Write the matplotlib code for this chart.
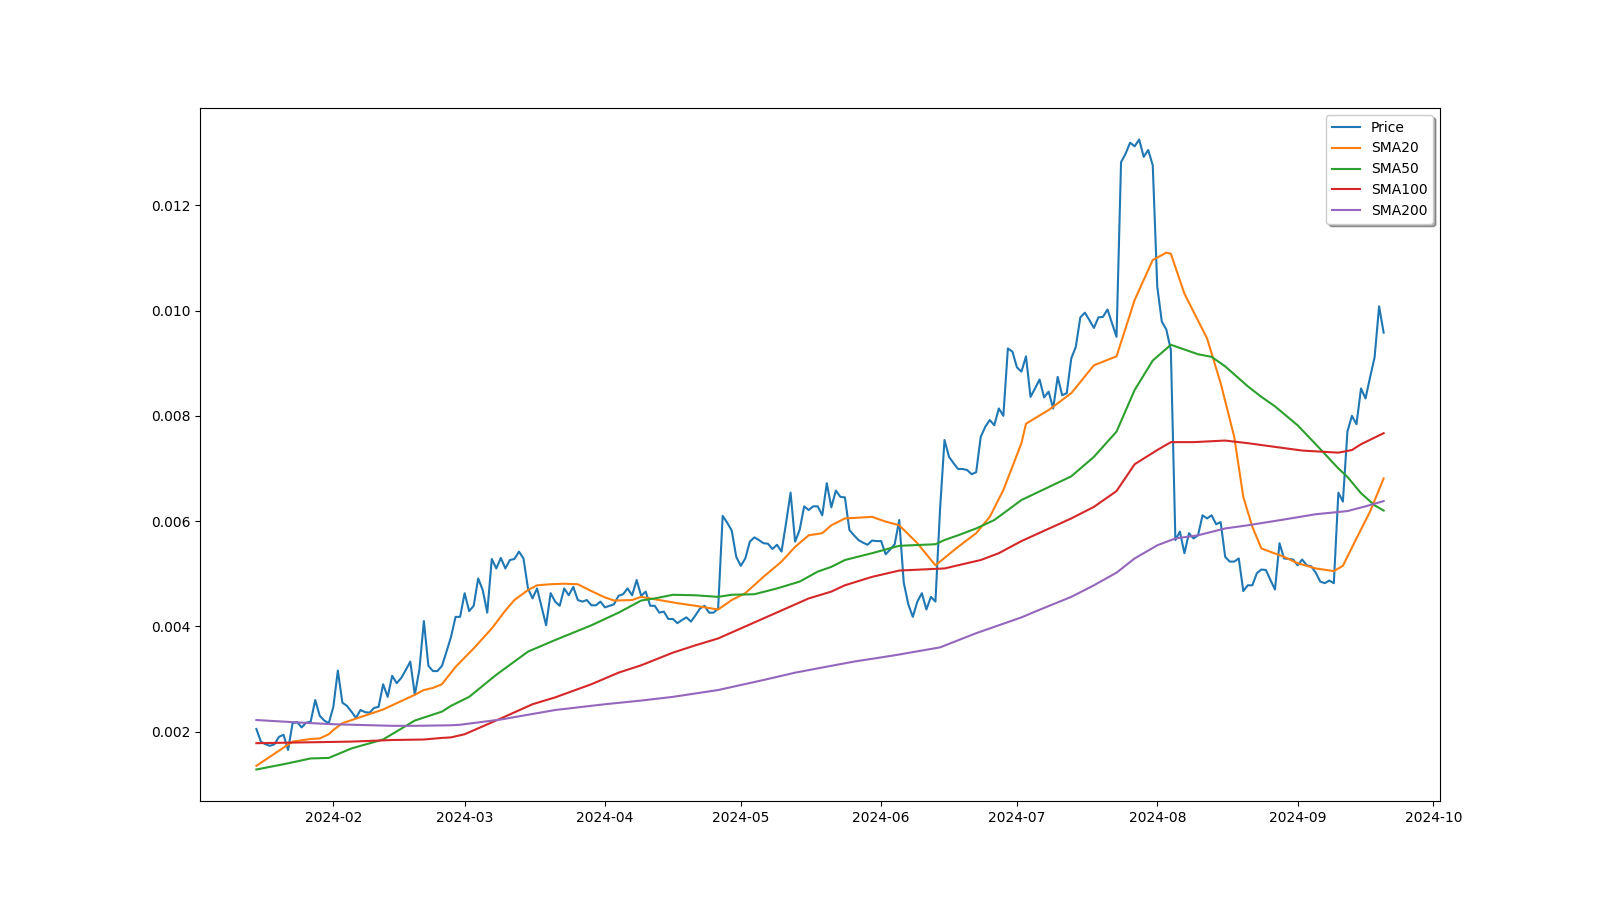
import numpy as np
import pandas as pd
import matplotlib
matplotlib.use("Agg")
import matplotlib.pyplot as plt

# daily close, starting 2024-01-15
start = "2024-01-15"
price = [
    0.00205, 0.00181, 0.00176, 0.00173, 0.00176, 0.00190, 0.00194, 0.00165, 0.00216, 0.00218,
    0.00208, 0.00217, 0.00219, 0.00260, 0.00230, 0.00221, 0.00216, 0.00247, 0.00316, 0.00255,
    0.00249, 0.00238, 0.00226, 0.00241, 0.00237, 0.00236, 0.00245, 0.00247, 0.00290, 0.00266,
    0.00306, 0.00292, 0.00302, 0.00317, 0.00333, 0.00270, 0.00317, 0.00410, 0.00325, 0.00315,
    0.00315, 0.00325, 0.00352, 0.00380, 0.00418, 0.00418, 0.00463, 0.00429, 0.00439, 0.00491,
    0.00469, 0.00426, 0.00528, 0.00510, 0.00530, 0.00510, 0.00526, 0.00528, 0.00542, 0.00529,
    0.00472, 0.00453, 0.00472, 0.00437, 0.00402, 0.00463, 0.00447, 0.00439, 0.00472, 0.00459,
    0.00475, 0.00450, 0.00447, 0.00450, 0.00440, 0.00440, 0.00447, 0.00436, 0.00439, 0.00442,
    0.00458, 0.00461, 0.00472, 0.00459, 0.00488, 0.00458, 0.00466, 0.00439, 0.00439, 0.00426,
    0.00428, 0.00414, 0.00414, 0.00406, 0.00412, 0.00417, 0.00409, 0.00421, 0.00434, 0.00439,
    0.00426, 0.00426, 0.00434, 0.00610, 0.00597, 0.00582, 0.00532, 0.00515, 0.00529, 0.00561,
    0.00569, 0.00564, 0.00558, 0.00557, 0.00547, 0.00555, 0.00542, 0.00596, 0.00654, 0.00561,
    0.00583, 0.00628, 0.00621, 0.00628, 0.00628, 0.00611, 0.00672, 0.00626, 0.00658, 0.00646,
    0.00645, 0.00583, 0.00573, 0.00564, 0.00559, 0.00555, 0.00563, 0.00562, 0.00562, 0.00537,
    0.00546, 0.00556, 0.00602, 0.00483, 0.00442, 0.00418, 0.00447, 0.00463, 0.00432, 0.00456,
    0.00447, 0.00620, 0.00754, 0.00722, 0.00710, 0.00699, 0.00699, 0.00697, 0.00689, 0.00693,
    0.00760, 0.00779, 0.00792, 0.00782, 0.00814, 0.00800, 0.00928, 0.00922, 0.00892, 0.00884,
    0.00913, 0.00836, 0.00852, 0.00869, 0.00835, 0.00846, 0.00814, 0.00874, 0.00839, 0.00843,
    0.00909, 0.00931, 0.00987, 0.00996, 0.00982, 0.00967, 0.00987, 0.00988, 0.01002, 0.00976,
    0.00950, 0.01282, 0.01298, 0.01319, 0.01312, 0.01325, 0.01292, 0.01305, 0.01276, 0.01045,
    0.00979, 0.00964, 0.00925, 0.00564, 0.00580, 0.00539, 0.00577, 0.00567, 0.00573, 0.00611,
    0.00605, 0.00611, 0.00594, 0.00598, 0.00532, 0.00523, 0.00523, 0.00529, 0.00467, 0.00478,
    0.00478, 0.00501, 0.00508, 0.00507, 0.00488, 0.00470, 0.00558, 0.00529, 0.00528, 0.00527,
    0.00516, 0.00527, 0.00516, 0.00514, 0.00502, 0.00485, 0.00482, 0.00487, 0.00482, 0.00654,
    0.00637, 0.00770, 0.00800, 0.00784, 0.00852, 0.00833, 0.00873, 0.00911, 0.01008, 0.00958,
]

# moving averages, read at their bends (day offset from start, value)
sma20_day = [0, 8, 12, 14, 16, 17, 19, 28, 35, 37, 39, 41, 44, 48, 52, 55, 57, 60, 62, 65,
             68, 71, 74, 77, 79, 83, 85, 93, 97, 102, 105, 108, 112, 116, 119, 122, 125, 127,
             130, 136, 139, 142, 146, 150, 155, 159, 162, 165, 169, 170, 175, 180, 185, 190,
             194, 198, 201, 202, 205, 210, 213, 216, 218, 220, 222, 227, 230, 234, 238, 240,
             243, 246, 249]
sma20 = [0.00135, 0.00181, 0.00186, 0.00187, 0.00195, 0.00203, 0.00216, 0.00242, 0.00270,
         0.00279, 0.00283, 0.00290, 0.00323, 0.00358, 0.00396, 0.00430, 0.00450, 0.00469,
         0.00478, 0.00480, 0.00481, 0.00480, 0.00467, 0.00455, 0.00449, 0.00450, 0.00456,
         0.00444, 0.00439, 0.00432, 0.00450, 0.00463, 0.00494, 0.00523, 0.00551, 0.00573,
         0.00577, 0.00592, 0.00605, 0.00608, 0.00599, 0.00592, 0.00558, 0.00516, 0.00551,
         0.00577, 0.00608, 0.00659, 0.00748, 0.00785, 0.00811, 0.00843, 0.00896, 0.00913,
         0.01020, 0.01096, 0.01110, 0.01108, 0.01032, 0.00947, 0.00862, 0.00760, 0.00646,
         0.00589, 0.00548, 0.00532, 0.00520, 0.00510, 0.00505, 0.00515, 0.00567, 0.00618,
         0.00681]

sma50_day = [0, 6, 12, 16, 21, 28, 35, 41, 43, 47, 53, 60, 66, 74, 80, 85, 88, 92, 97, 102,
             105, 110, 115, 120, 124, 127, 130, 136, 142, 150, 152, 155, 159, 163, 169, 180,
             185, 190, 194, 198, 202, 208, 211, 214, 219, 222, 225, 230, 234, 239, 241, 244,
             247, 249]
sma50 = [0.00128, 0.00138, 0.00149, 0.00150, 0.00168, 0.00185, 0.00221, 0.00238, 0.00249,
         0.00266, 0.00308, 0.00352, 0.00374, 0.00402, 0.00426, 0.00449, 0.00453, 0.00460,
         0.00459, 0.00456, 0.00460, 0.00461, 0.00472, 0.00485, 0.00504, 0.00513, 0.00526,
         0.00539, 0.00553, 0.00556, 0.00564, 0.00573, 0.00586, 0.00602, 0.00640, 0.00685,
         0.00722, 0.00770, 0.00849, 0.00905, 0.00935, 0.00917, 0.00912, 0.00894, 0.00856,
         0.00836, 0.00818, 0.00782, 0.00746, 0.00700, 0.00684, 0.00653, 0.00630, 0.00620]

sma100_day = [0, 21, 30, 37, 41, 43, 46, 54, 61, 66, 74, 80, 85, 92, 97, 102, 107, 112,
              117, 122, 127, 130, 136, 142, 152, 160, 164, 169, 180, 185, 190, 194, 199, 202,
              207, 214, 219, 225, 231, 239, 242, 244, 249]
sma100 = [0.00178, 0.00181, 0.00184, 0.00185, 0.00188, 0.00189, 0.00195, 0.00225, 0.00252,
          0.00265, 0.00290, 0.00312, 0.00326, 0.00350, 0.00364, 0.00377, 0.00396,
          0.00415, 0.00434, 0.00453, 0.00466, 0.00478, 0.00494, 0.00506, 0.00510, 0.00526,
          0.00539, 0.00562, 0.00605, 0.00627, 0.00657, 0.00708, 0.00735, 0.00750, 0.00750,
          0.00753, 0.00748, 0.00741, 0.00734, 0.00730, 0.00735, 0.00746, 0.00767]

sma200_day = [0, 10, 17, 30, 35, 43, 45, 54, 66, 77, 85, 92, 102, 112, 119, 127, 132, 141,
              151, 159, 169, 172, 180, 185, 190, 194, 199, 203, 208, 214, 219, 227, 234, 241,
              245, 249]
sma200 = [0.00222, 0.00217, 0.00214, 0.00211, 0.00211, 0.00212, 0.00213, 0.00223, 0.00241,
          0.00252, 0.00259, 0.00266, 0.00279, 0.00298, 0.00312, 0.00325, 0.00333, 0.00345,
          0.00360, 0.00387, 0.00417, 0.00428, 0.00456, 0.00478, 0.00502, 0.00529, 0.00554,
          0.00567, 0.00573, 0.00586, 0.00592, 0.00603, 0.00613, 0.00619, 0.00628, 0.00638]


def to_dates(days):
    return pd.Timestamp(start) + pd.to_timedelta(days, unit="D")


dates = pd.date_range(start, periods=len(price), freq="D")

fig, ax = plt.subplots(figsize=(16, 9), dpi=100)

ax.plot(dates, price, label="Price")
ax.plot(to_dates(sma20_day), sma20, label="SMA20")
ax.plot(to_dates(sma50_day), sma50, label="SMA50")
ax.plot(to_dates(sma100_day), sma100, label="SMA100")
ax.plot(to_dates(sma200_day), sma200, label="SMA200")

ax.legend(loc="upper right", shadow=True)

fig.savefig("out.png", dpi=100)
